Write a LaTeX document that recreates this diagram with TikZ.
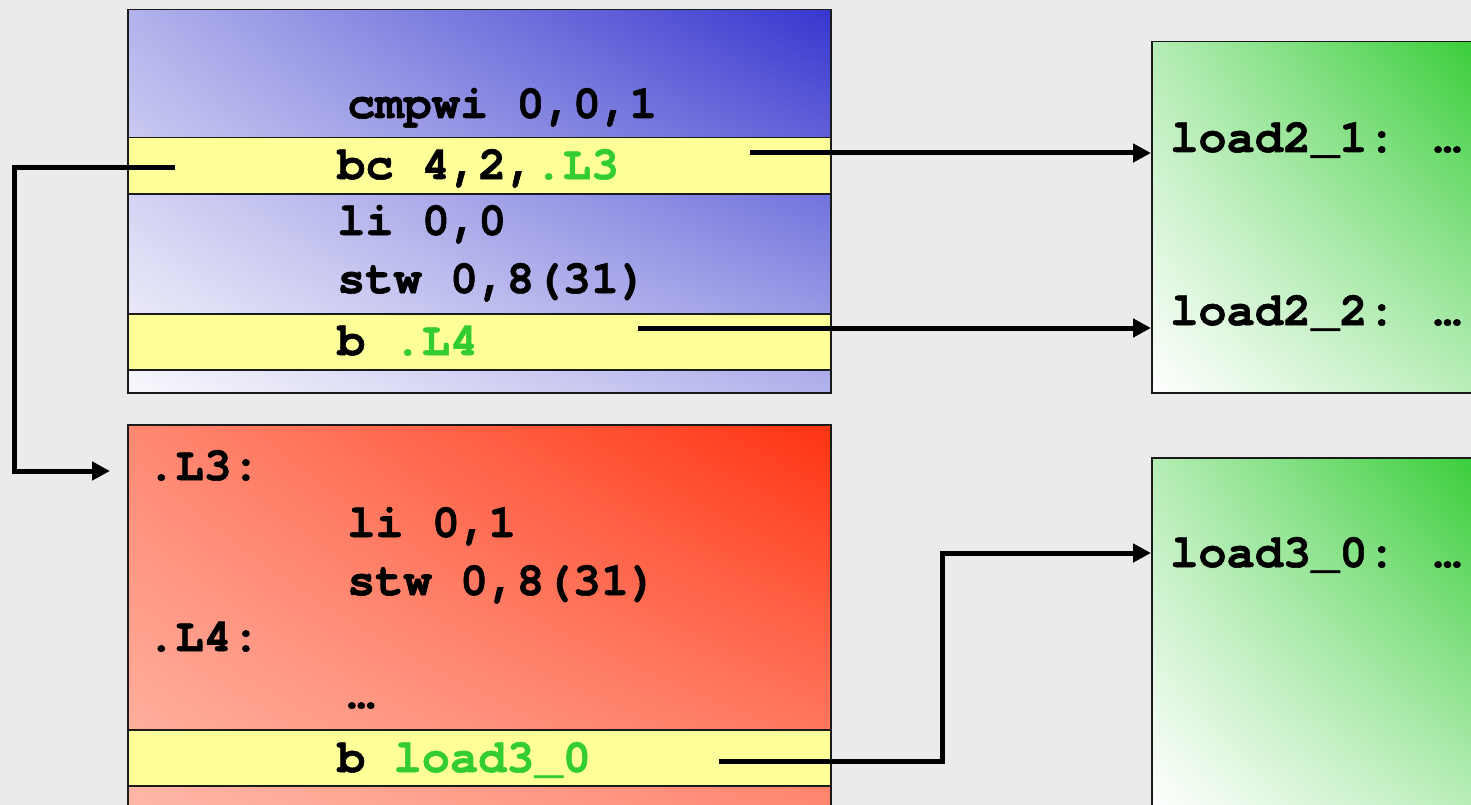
\documentclass[tikz,border=0pt]{standalone}
\usepackage{fontspec}
\usetikzlibrary{arrows.meta,calc,shadings}
\newfontfamily\codefont[FakeBold=1.2]{texgyrecursor-bold.otf}

\definecolor{pagebg}{HTML}{EBEBEB}
\definecolor{framecol}{HTML}{1A1A1A}
\definecolor{stripe}{HTML}{FFFF99}
\definecolor{labelgreen}{HTML}{33CC33}
\definecolor{blueDark}{HTML}{3636CF}
\definecolor{blueLight}{HTML}{F8F8FC}
\definecolor{redDark}{HTML}{FF3311}
\definecolor{redLight}{HTML}{FFB8A8}
\definecolor{greenDark}{HTML}{33CC33}
\definecolor{greenLight}{HTML}{FFFFFF}

\tikzset{
  block/.style={draw=framecol, line width=1.5pt, anchor=north west, inner sep=0pt},
  % diagonal gradient: light at lower left, dark at upper right
  diag/.style 2 args={lower left=#1, upper right=#2,
    upper left={#2!36!#1}, lower right={#2!36!#1}},
  stripebox/.style={block, fill=stripe, minimum width=703pt, minimum height=56pt},
  code/.style={anchor=base west, inner sep=0pt,
    font=\codefont\fontsize{47}{56}\selectfont},
  jump/.style={line width=5pt, -{Triangle[length=18pt,width=18pt]}},
}

\begin{document}
\begin{tikzpicture}[x=1pt,y=-1pt]
  % page
  \fill[pagebg] (0,0) rectangle (1471,805);
  \useasboundingbox (0,0) rectangle (1471,805);
  \clip (0,0) rectangle (1471,805);

  % code blocks
  \node[block, diag={blueLight}{blueDark}, minimum width=703pt, minimum height=383pt]
    (blue) at (127,9) {};
  \node[block, diag={redLight}{redDark}, minimum width=703pt, minimum height=385pt]
    (red) at (127,424) {};
  \node[block, diag={greenLight}{greenDark}, minimum width=340pt, minimum height=351pt]
    (g1) at (1151,41) {};
  \node[block, diag={greenLight}{greenDark}, minimum width=340pt, minimum height=351pt]
    (g2) at (1151,457) {};

  % branch instructions
  \node[stripebox] (y1) at (127,137) {};
  \node[stripebox] (y2) at (127,313) {};
  \node[stripebox] (y3) at (127,729) {};

  % upper block listing
  \node[code] (t1) at (347,118) {cmpwi 0,0,1};
  \node[code] (t2) at (337,179) {bc 4,2,\textcolor{labelgreen}{.L3}};
  \node[code] (t3) at (337,235) {li 0,0};
  \node[code] (t4) at (337,293) {stw 0,8(31)};
  \node[code] (t5) at (337,355) {b \textcolor{labelgreen}{.L4}};

  % lower block listing
  \node[code] (u1) at (147,480) {.L3:};
  \node[code] (u2) at (347,537) {li 0,1};
  \node[code] (u3) at (347,595) {stw 0,8(31)};
  \node[code] (u4) at (147,651) {.L4:};
  \node[code] (u5) at (347,708) {…};
  \node[code] (u6) at (337,772) {b \textcolor{labelgreen}{load3\_0}};

  % targets
  \node[code] (v1) at (1170,152) {load2\_1: …};
  \node[code] (v2) at (1170,325) {load2\_2: …};
  \node[code] (v3) at (1170,567) {load3\_0: …};

  % jump sources
  \coordinate (s1) at (750,153);
  \coordinate (s2) at (638,328);
  \coordinate (s3) at (175,168);
  \coordinate (s4) at (719,761);
  \coordinate (k3) at (14,168);
  \coordinate (k4) at (942,761);

  % jumps
  \draw[jump] (s1) -- (s1 -| g1.west);
  \draw[jump] (s2) -- (s2 -| g1.west);
  \draw[jump] (s3) -- (k3) -- ($(k3 |- 0,471)$) -- ($(red.west |- 0,471) + (-17,0)$);
  \draw[jump] (s4) -- (k4) -- ($(k4 |- 0,553)$) -- ($(g2.west |- 0,553)$);
\end{tikzpicture}
\end{document}
